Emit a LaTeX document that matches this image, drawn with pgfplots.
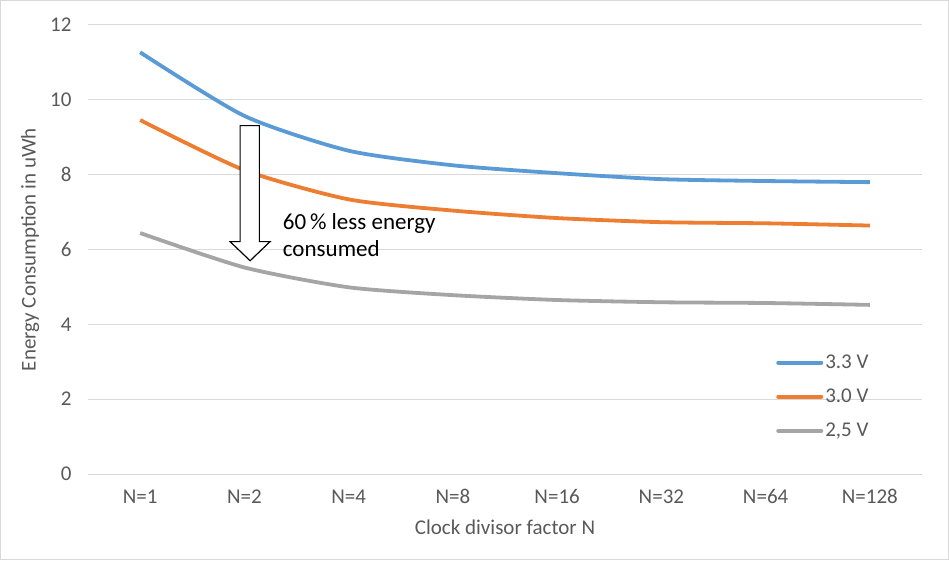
\documentclass[border=0pt]{standalone}
\usepackage{fontspec}
\setmainfont{Carlito}
\usepackage{pgfplots}
\pgfplotsset{compat=1.18}
\usetikzlibrary{calc}
\definecolor{cblue}{HTML}{5B9BD5}
\definecolor{corange}{HTML}{ED7D31}
\definecolor{cgray}{HTML}{A5A5A5}
\definecolor{gridc}{HTML}{D9D9D9}
\definecolor{textc}{HTML}{595959}
\begin{document}
\begin{tikzpicture}
\begin{axis}[
  scale only axis, width=834bp, height=449bp,
  xmin=-0.5, xmax=7.5, ymin=0, ymax=12,
  xtick={0,...,7},
  xticklabels={N=1,N=2,N=4,N=8,N=16,N=32,N=64,N=128},
  ytick={0,2,...,12},
  axis line style={draw=none},
  ymajorgrids, grid style={color=gridc, line width=1bp},
  major tick length=0pt,
  tick label style={font=\fontsize{21bp}{24bp}\selectfont, text=textc},
  /pgf/number format/assume math mode=true,
  yticklabel style={anchor=east, xshift=-13bp},
  xticklabel style={yshift=-12bp},
  xlabel={Clock divisor factor N},
  ylabel={Energy Consumption in uWh},
  label style={font=\fontsize{21bp}{24bp}\selectfont, text=textc},
  xlabel style={at={(axis description cs:0.5,-0.118)}, anchor=center},
  ylabel style={at={(axis description cs:-0.0695,0.5)}, anchor=center},
  legend style={at={(axis cs:6.1,3.24)}, anchor=north west, draw=none, fill=none,
    font=\fontsize{21bp}{24bp}\selectfont, text=textc, inner sep=0pt,
    row sep=15bp, cells={anchor=west}},
  legend image code/.code={\draw[#1, line width=4bp, line cap=round] (0bp,0bp) -- (43bp,0bp);},
  every axis plot/.append style={line width=3.8bp, line join=round, smooth, tension=0.4},
]
\addplot[cblue] coordinates {(0,11.27) (1,9.57) (2,8.64) (3,8.25) (4,8.04) (5,7.88) (6,7.83) (7,7.80)};
\addlegendentry{3.3 V}
\addplot[corange] coordinates {(0,9.46) (1,8.12) (2,7.34) (3,7.04) (4,6.84) (5,6.73) (6,6.70) (7,6.64)};
\addlegendentry{3.0 V}
\addplot[cgray] coordinates {(0,6.44) (1,5.52) (2,4.99) (3,4.78) (4,4.65) (5,4.59) (6,4.57) (7,4.52)};
\addlegendentry{2,5 V}
\draw[black, line width=1.2bp, fill=white]
  (axis cs:0.959,9.31) -- (axis cs:1.144,9.31) -- (axis cs:1.144,6.21) -- (axis cs:1.246,6.21)
  -- (axis cs:1.055,5.70) -- (axis cs:0.863,6.21) -- (axis cs:0.959,6.21) -- cycle;
\node[anchor=west, align=left, font=\fontsize{23bp}{27bp}\selectfont, inner sep=0pt]
  at (axis cs:1.368,6.39) {60\,\% less energy\\consumed};
\end{axis}
\draw[gridc, line width=1bp] ($(current axis.south west)+(-87.5bp,-85.5bp)$) rectangle ($(current axis.north east)+(26.5bp,24.5bp)$);
\end{tikzpicture}
\end{document}
